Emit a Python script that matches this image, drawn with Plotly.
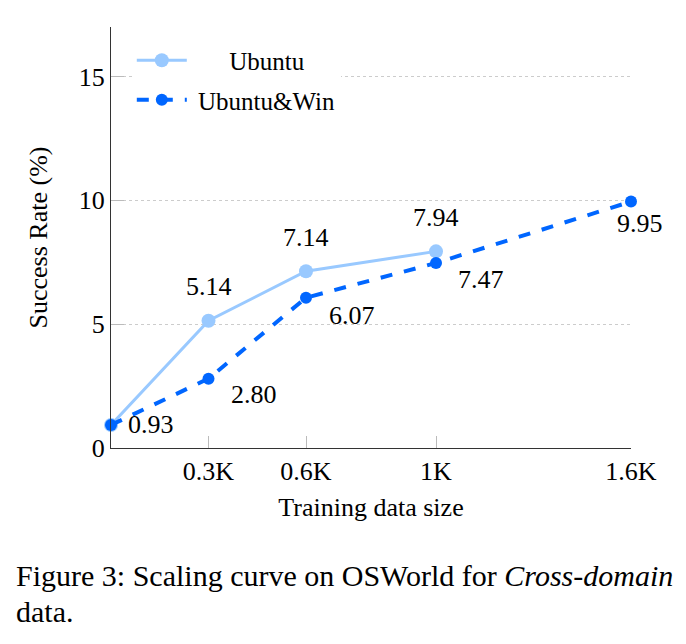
import plotly.graph_objects as go

# Data
x_ubuntu = [0.0, 0.3, 0.6, 1.0]
y_ubuntu = [0.93, 5.14, 7.14, 7.94]
x_win = [0.0, 0.3, 0.6, 1.0, 1.6]
y_win = [0.93, 2.80, 6.07, 7.47, 9.95]
x_tickvals = [0.3, 0.6, 1.0, 1.6]
x_ticktext = ["0.3K", "0.6K", "1K", "1.6K"]
y_tickvals = [0, 5, 10, 15]

LIGHT = "#99C9FF"
DARK = "#0066FF"
FONT = "'Liberation Serif', 'Times New Roman', Times, serif"

fig = go.Figure()
fig.add_trace(go.Scatter(
    x=x_ubuntu, y=y_ubuntu, mode="lines+markers",
    name="\u00a0\u00a0\u00a0\u00a0\u00a0\u00a0Ubuntu", legendgroup="a",
    line=dict(color=LIGHT, width=3),
    marker=dict(color=LIGHT, size=14),
    cliponaxis=False,
))
fig.add_trace(go.Scatter(
    x=x_win, y=y_win, mode="lines+markers",
    name="\u00a0Ubuntu&amp;Win", legendgroup="b",
    line=dict(color=DARK, width=4, dash="dash"),
    marker=dict(color=DARK, size=12),
    cliponaxis=False,
))

annotations = []
for xv, yv in zip(x_ubuntu[1:], y_ubuntu[1:]):
    annotations.append(dict(x=xv, y=yv, xref="x", yref="y", text=f"{yv:.2f}",
                            showarrow=False, xshift=0, yshift=34,
                            font=dict(family=FONT, size=26, color="black")))
offsets = [(40, 0), (45, -16), (46, -18), (45, -16), (9, -22)]
for (xv, yv), (dx, dy) in zip(zip(x_win, y_win), offsets):
    annotations.append(dict(x=xv, y=yv, xref="x", yref="y", text=f"{yv:.2f}",
                            showarrow=False, xshift=dx, yshift=dy,
                            font=dict(family=FONT, size=26, color="black")))
annotations.append(dict(x=14, y=575, xref="paper", yref="paper", text="Figure 3: Scaling curve on OSWorld for <i>Cross-domain</i>",
                        showarrow=False, xanchor="left", yanchor="middle",
                        font=dict(family=FONT, size=30, color="black")))
annotations.append(dict(x=14, y=611, xref="paper", yref="paper", text="data.",
                        showarrow=False, xanchor="left", yanchor="middle",
                        font=dict(family=FONT, size=30, color="black")))

W, H = 686, 644
L, R, T, B = 111, 55, 27, 196
pw, ph = W - L - R, H - T - B
for a in annotations[-2:]:
    a["x"] = (a["x"] - L) / pw
    a["y"] = (H - B - a["y"]) / ph

fig.update_layout(
    width=W, height=H,
    margin=dict(l=L, r=R, t=T, b=B, pad=0),
    paper_bgcolor="white", plot_bgcolor="white",
    font=dict(family=FONT, size=26, color="black"),
    showlegend=True,
    legend=dict(x=0.04, y=0.975, xanchor="left", yanchor="top",
                bgcolor="white", borderwidth=0,
                font=dict(family=FONT, size=25, color="black"),
                itemwidth=50, tracegroupgap=4, traceorder="grouped"),
    annotations=annotations,
    xaxis=dict(range=[0, 1.6], tickvals=x_tickvals, ticktext=x_ticktext,
               showgrid=False, zeroline=False, showline=True, linecolor="#333", linewidth=1.3,
               ticks="inside", ticklen=12, tickcolor="#bbbbbb", tickwidth=1,
               tickfont=dict(family=FONT, size=26, color="black"),
               title=dict(text="Training data size", standoff=12,
                          font=dict(family=FONT, size=26, color="black"))),
    yaxis=dict(range=[0, 17], tickvals=y_tickvals,
               showgrid=True, gridcolor="#cccccc", griddash="dot", gridwidth=1,
               zeroline=False, showline=True, linecolor="#333", linewidth=1.3,
               ticks="inside", ticklen=13, tickcolor="#bbbbbb", tickwidth=1,
               tickfont=dict(family=FONT, size=26, color="black"),
               title=dict(text="Success Rate (%)", standoff=23,
                          font=dict(family=FONT, size=26, color="black"))),
)

fig.write_html("out.html")
